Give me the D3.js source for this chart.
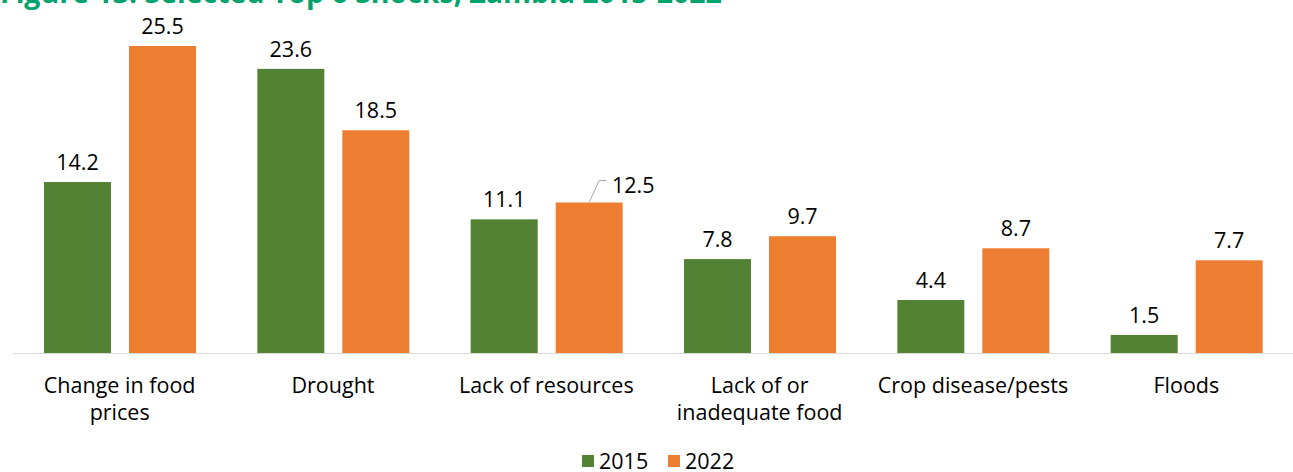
<!DOCTYPE html>
<html>
<head>
<meta charset="utf-8">
<script src="https://cdn.jsdelivr.net/npm/d3@7"></script>
<style>
  html, body { margin: 0; padding: 0; background: #fff; }
  svg { display: block; }
</style>
</head>
<body>
<svg id="chart" width="1293" height="472"></svg>
<script>
const categories = [["Change in food", "prices"], ["Drought"], ["Lack of resources"], ["Lack of or", "inadequate food"], ["Crop disease/pests"], ["Floods"]];
const seriesNames = ["2015", "2022"];
const values2015 = [14.2, 23.6, 11.1, 7.8, 4.4, 1.5];
const values2022 = [25.5, 18.5, 12.5, 9.7, 8.7, 7.7];
const colors = ["#548235", "#ED7D31"];
const titleText = "Figure 13: Selected Top 6 Shocks, Zambia 2015-2022";

const svg = d3.select("#chart");
const font = "'Open Sans', sans-serif";
const fs = 21.5;

const left = 13, right = 1293, baseY = 353;
const x0 = d3.scaleBand().domain(d3.range(categories.length)).range([left, right]);
const x1 = d3.scaleBand().domain([0, 1]).range([31, 183]).paddingInner(18 / 85).paddingOuter(0);
const y = d3.scaleLinear().domain([0, 25.5]).range([baseY, 46]);

// title (mostly cut off at the top, as in the reference)
const title = svg.append("text")
  .attr("x", 0).attr("y", 3)
  .attr("font-family", font)
  .attr("font-weight", "bold")
  .attr("font-size", 24)
  .attr("fill", "#00A36C")
  .text(titleText);
const tw = title.node().getComputedTextLength();
title.attr("font-size", 24 * 722 / tw);

const data = categories.map((c, i) => ({ i, vals: [values2015[i], values2022[i]] }));

const g = svg.selectAll("g.grp").data(data).enter().append("g")
  .attr("class", "grp")
  .attr("transform", d => `translate(${x0(d.i)},0)`);

g.selectAll("rect").data(d => d.vals.map((v, s) => ({ v, s }))).enter().append("rect")
  .attr("x", d => x1(d.s))
  .attr("width", x1.bandwidth())
  .attr("y", d => y(d.v))
  .attr("height", d => baseY - y(d.v))
  .attr("fill", d => colors[d.s]);

const shifted = (d) => d.i === 2 && d.s === 1;
g.selectAll("text.val").data(d => d.vals.map((v, s) => ({ v, s, i: d.i }))).enter().append("text")
  .attr("class", "val")
  .attr("x", d => x1(d.s) + x1.bandwidth() / 2 + (shifted(d) ? 44 : 0))
  .attr("y", d => y(d.v) - 12 + (shifted(d) ? 2 : 0))
  .attr("text-anchor", "middle")
  .attr("font-family", font)
  .attr("font-size", fs)
  .attr("fill", "#000")
  .text(d => d.v.toFixed(1));

// leader line for the shifted label
{
  const i = 2, s = 1;
  const bx = x0(i) + x1(s) + x1.bandwidth() / 2;
  const by = y(values2022[i]);
  svg.append("polyline")
    .attr("points", `${bx},${by} ${bx + 10},${by - 22} ${bx + 17},${by - 22}`)
    .attr("fill", "none")
    .attr("stroke", "#a6a6a6")
    .attr("stroke-width", 1);
}

// baseline
svg.append("line")
  .attr("x1", left).attr("x2", right)
  .attr("y1", baseY + 0.5).attr("y2", baseY + 0.5)
  .attr("stroke", "#d9d9d9").attr("stroke-width", 1);

// category labels
const cl = svg.selectAll("text.cat").data(categories).enter().append("text")
  .attr("class", "cat")
  .attr("text-anchor", "middle")
  .attr("font-family", font)
  .attr("font-size", fs)
  .attr("fill", "#000");
cl.each(function(d, i) {
  const t = d3.select(this);
  d.forEach((line, k) => {
    t.append("tspan")
      .attr("x", x0(i) + x0.bandwidth() / 2)
      .attr("y", 393 + k * 27)
      .text(line);
  });
});

// legend
const legX = [582, 668];
seriesNames.forEach((name, s) => {
  svg.append("rect").attr("x", legX[s]).attr("y", 455).attr("width", 12).attr("height", 12).attr("fill", colors[s]);
  svg.append("text").attr("x", legX[s] + 17).attr("y", 469)
    .attr("font-family", font).attr("font-size", fs).attr("fill", "#000").text(name);
});
</script>
</body>
</html>
